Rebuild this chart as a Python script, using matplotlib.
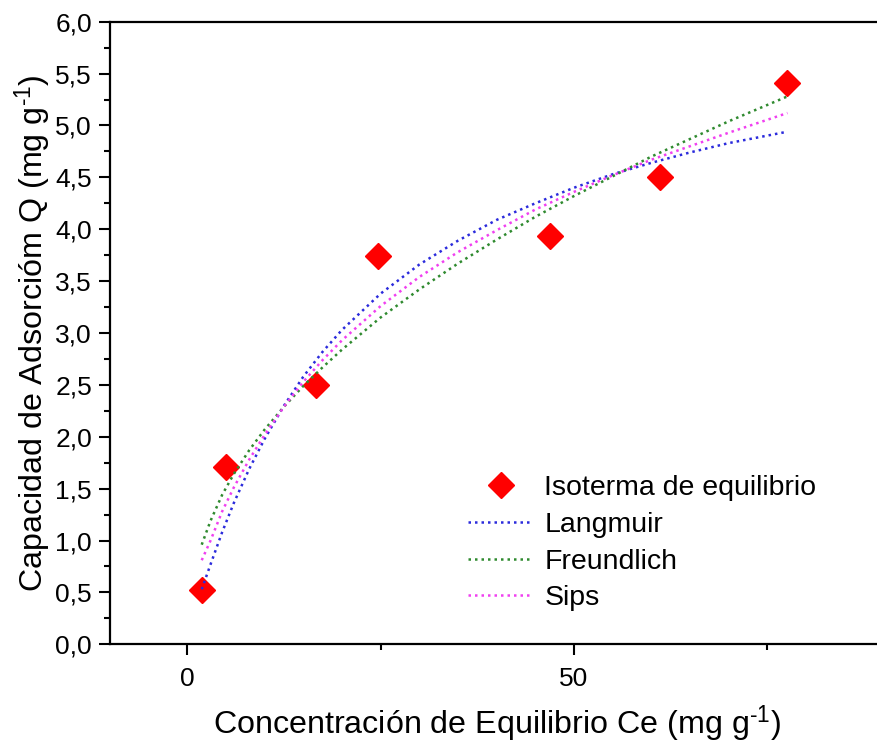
import matplotlib
matplotlib.use("Agg")
import matplotlib.pyplot as plt
from matplotlib.ticker import MultipleLocator, FuncFormatter

plt.rcParams['font.family'] = ['Liberation Sans', 'DejaVu Sans']
plt.rcParams['mathtext.fontset'] = 'custom'
plt.rcParams['mathtext.rm'] = 'Liberation Sans'
plt.rcParams['mathtext.it'] = 'Liberation Sans'

# Experimental equilibrium isotherm
ce_exp = [1.86, 4.96, 16.6, 24.6, 46.9, 61.1, 77.6]
q_exp = [0.52, 1.71, 2.50, 3.74, 3.93, 4.50, 5.41]

# Fitted model curves sampled along Ce
ce_fit = [1.86, 3, 4.5, 6, 8, 10, 12.5, 15, 17.5, 20, 25, 30, 35, 40,
          45, 50, 55, 60, 65, 70, 77.6]
q_langmuir = [0.53, 0.77, 1.08, 1.36, 1.69, 1.98, 2.30, 2.58, 2.82, 3.03,
              3.38, 3.66, 3.89, 4.09, 4.25, 4.40, 4.53, 4.64, 4.74, 4.83, 4.94]
q_freundlich = [0.96, 1.19, 1.44, 1.64, 1.87, 2.07, 2.29, 2.49, 2.67, 2.84,
                3.15, 3.42, 3.67, 3.90, 4.12, 4.32, 4.51, 4.70, 4.87, 5.04, 5.28]
q_sips = [0.81, 1.00, 1.28, 1.51, 1.78, 2.02, 2.29, 2.53, 2.74, 2.93,
          3.26, 3.54, 3.78, 3.99, 4.19, 4.36, 4.52, 4.67, 4.80, 4.93, 5.12]

W, H = 877, 748
fig = plt.figure(figsize=(W / 100, H / 100), dpi=100)
x0, x1 = -10, 90
ax_left, ax_bottom, ax_top = 110, 644.3, 21.7
px_per_unit = (574 - 187.3) / 50
ax_right = 187.3 + px_per_unit * x1
ax = fig.add_axes([ax_left / W, 1 - ax_bottom / H,
                   (ax_right - ax_left) / W, (ax_bottom - ax_top) / H])

dot = (0, (1, 1.6))
ax.plot(ce_fit, q_langmuir, color='#2b2bdc', lw=1.8, ls=dot, label='Langmuir', zorder=3)
ax.plot(ce_fit, q_freundlich, color='#2f8a2f', lw=1.8, ls=dot, label='Freundlich', zorder=3)
ax.plot(ce_fit, q_sips, color='#f040f0', lw=1.8, ls=dot, label='Sips', zorder=3)
ax.plot(ce_exp, q_exp, ls='none', marker='D', ms=13, color='#ff0000',
        mec='#ff0000', label='Isoterma de equilibrio', zorder=2)

ax.set_xlim(x0, x1)
ax.set_ylim(0, 6)

ax.xaxis.set_major_locator(MultipleLocator(50))
ax.xaxis.set_minor_locator(MultipleLocator(25))
ax.yaxis.set_major_locator(MultipleLocator(0.5))
ax.yaxis.set_minor_locator(MultipleLocator(0.25))
ax.yaxis.set_major_formatter(FuncFormatter(lambda v, p: f"{v:.1f}".replace('.', ',')))
ax.xaxis.set_major_formatter(FuncFormatter(lambda v, p: f"{v:.0f}"))

for side in ('left', 'bottom', 'top'):
    ax.spines[side].set_linewidth(1.6)
ax.spines['right'].set_visible(False)

ax.tick_params(axis='both', which='major', direction='out', length=8, width=1.5)
ax.tick_params(axis='both', which='minor', direction='out', length=4, width=1.5)
ax.tick_params(axis='y', which='major', labelsize=19, pad=5)
ax.tick_params(axis='x', which='major', labelsize=19, pad=8)
ax.tick_params(top=False, right=False, which='both')

sup = '$^{\\text{-1}}$'
ax.set_xlabel('Concentración de Equilibrio Ce (mg g' + sup + ')', fontsize=23.2, labelpad=9)
ax.set_ylabel('Capacidad de Adsorcióm Q (mg g' + sup + ')', fontsize=23.2, labelpad=1)

handles, labels = ax.get_legend_handles_labels()
order = [3, 0, 1, 2]
leg = ax.legend([handles[i] for i in order], [labels[i] for i in order],
                loc='upper left', bbox_to_anchor=(468 / W, 1 - 475 / H),
                bbox_transform=fig.transFigure, frameon=False, fontsize=20.5,
                handlelength=2.3, handletextpad=0.38, labelspacing=0.38,
                borderpad=0, borderaxespad=0)

fig.savefig('out.png', dpi=100)
